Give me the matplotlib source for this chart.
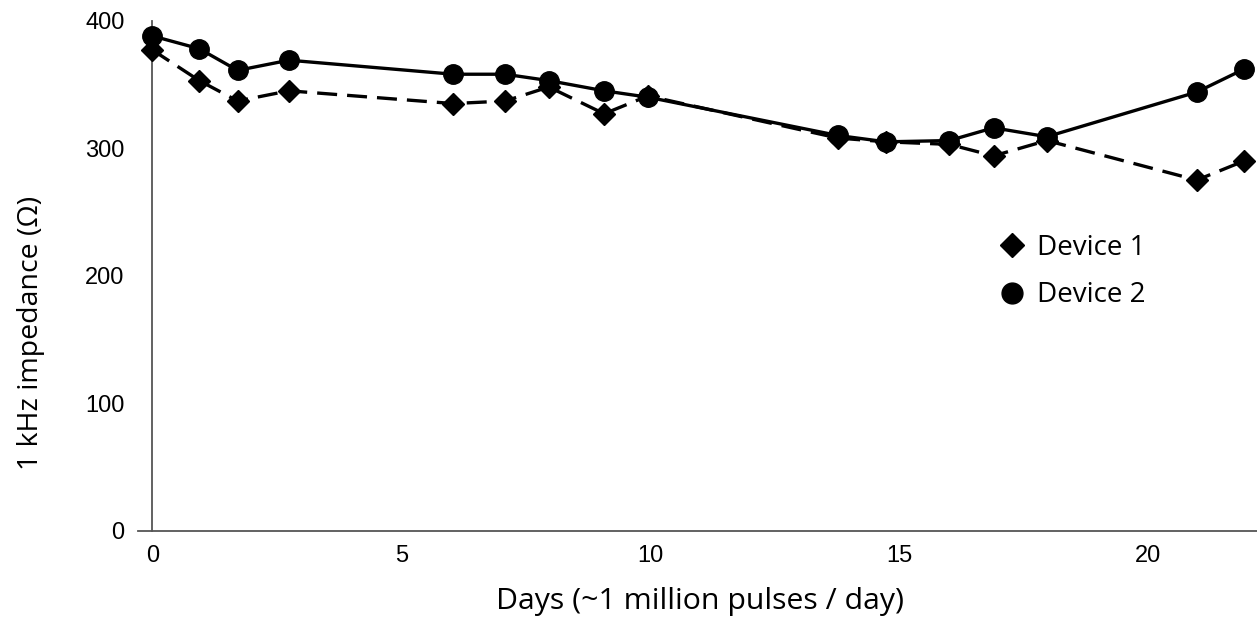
import matplotlib.pyplot as plt
from matplotlib.lines import Line2D

plt.rcParams['font.family'] = ['Liberation Sans', 'DejaVu Sans']

# data
days = [0, 0.94, 1.71, 2.74, 6.04, 7.08, 7.96, 9.07, 9.95,
        13.76, 14.73, 16.0, 16.89, 17.96, 20.97, 21.92]
device1 = [377, 353, 337, 345, 335, 337, 348, 327, 341,
           308, 305, 303, 294, 306, 275, 290]
device2 = [388, 378, 361, 369, 358, 358, 353, 345, 340,
           310, 305, 306, 316, 309, 344, 362]
xticks = [0, 5, 10, 15, 20]
yticks = [0, 100, 200, 300, 400]

fig = plt.figure(figsize=(12.57, 6.26), dpi=100)
ax = fig.add_axes([0.110, 0.152, 0.890, 0.815])

ax.plot(days, device1, color='black', lw=2.4, ls=(0, (6, 3)),
        marker='D', ms=11, clip_on=False, zorder=3)
ax.plot(days, device2, color='black', lw=2.4, ls='-',
        marker='o', ms=14, clip_on=False, zorder=4)

ax.set_xlim(-0.285, 22.18)
ax.set_ylim(0, 400)
ax.set_xticks(xticks)
ax.set_yticks(yticks)
ax.tick_params(length=0, labelsize=17)
ax.tick_params(axis='x', pad=10)
ax.tick_params(axis='y', pad=20)

ax.spines['top'].set_visible(False)
ax.spines['right'].set_visible(False)
ax.spines['left'].set_position(('data', 0))
for s in ['left', 'bottom']:
    ax.spines[s].set_color('#555555')
    ax.spines[s].set_linewidth(1.3)

ax.set_xlabel('Days (~1 million pulses / day)', fontsize=21.8,
              family='Open Sans')
ax.set_ylabel('1 kHz impedance (\u03a9)', fontsize=20.5,
              family='Open Sans')
ax.xaxis.set_label_coords(0.502, -0.11)
ax.yaxis.set_label_coords(-0.083, 0.388)

handles = [Line2D([], [], color='black', marker='D', ls='none', ms=12),
           Line2D([], [], color='black', marker='o', ls='none', ms=15)]
ax.legend(handles, ['Device 1', 'Device 2'], frameon=False,
          loc='center left', bbox_to_anchor=(0.739, 0.508),
          prop={'family': 'Open Sans', 'size': 20},
          handlelength=1.6, handletextpad=0.1, labelspacing=0.69)

fig.savefig('out.png', dpi=100)
